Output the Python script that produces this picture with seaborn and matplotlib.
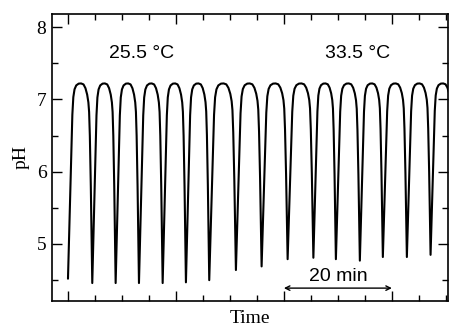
import numpy as np
import pandas as pd
import matplotlib
matplotlib.use("Agg")
import matplotlib.pyplot as plt
import seaborn as sns
from matplotlib.ticker import MultipleLocator, NullFormatter

# ---- data ----
# times (min) of the pH minima and the pH reached at each minimum
min_times = [0.0, 4.5, 8.83, 13.15, 17.54, 21.85, 26.17, 31.11, 35.87,
             40.69, 45.46, 49.63, 54.07, 58.33, 62.78, 67.17, 71.5]
min_ph = [4.52, 4.46, 4.46, 4.46, 4.46, 4.47, 4.50, 4.64, 4.69,
          4.79, 4.81, 4.79, 4.77, 4.82, 4.82, 4.85, 4.85]
top_ph = 7.22
# waveform of one cycle: phase in cycle, fraction of swing
cycle_phase = [0.00, 0.05, 0.10, 0.14, 0.18, 0.22, 0.27, 0.34, 0.44, 0.54,
               0.64, 0.72, 0.79, 0.84, 0.87, 0.90, 0.94, 0.97]
cycle_frac = [0.0, 0.23, 0.45, 0.66, 0.84, 0.93, 0.97, 0.99, 0.999, 1.0,
              0.995, 0.976, 0.944, 0.905, 0.857, 0.738, 0.485, 0.231]
label_left = "25.5 °C"
label_right = "33.5 °C"
scale_label = "20 min"
ytick_values = [5, 6, 7, 8]

# ---- build the trace ----
ts, ps = [], []
for i in range(len(min_times) - 1):
    t0, t1 = min_times[i], min_times[i + 1]
    m0, m1 = min_ph[i], min_ph[i + 1]
    for u, f in zip(cycle_phase, cycle_frac):
        base = m0 if u <= 0.54 else m1
        ts.append(t0 + u * (t1 - t0))
        ps.append(base + f * (top_ph - base))
ts.append(min_times[-1])
ps.append(min_ph[-1])
df = pd.DataFrame({"Time": ts, "pH": ps})

sns.set_style("ticks")
plt.rcParams["font.family"] = ["Liberation Serif", "DejaVu Serif"]
plt.rcParams["text.color"] = "black"
plt.rcParams["axes.labelcolor"] = "black"

fig = plt.figure(figsize=(4.49, 3.28), dpi=100)
ax = fig.add_axes([52 / 449, 1 - 300.7 / 328, 396 / 449, (300.7 - 14) / 328])

sns.lineplot(data=df, x="Time", y="pH", ax=ax, color="black", linewidth=1.5,
             estimator=None, sort=False)

ax.set_xlim(-2.96, 70.4)
ax.set_ylim(4.216, 8.18)

ax.xaxis.set_major_locator(MultipleLocator(20))
ax.xaxis.set_minor_locator(MultipleLocator(5))
ax.xaxis.set_major_formatter(NullFormatter())
ax.set_yticks(ytick_values)
ax.yaxis.set_minor_locator(MultipleLocator(0.5))

ax.tick_params(which="both", direction="in", top=True, right=True, colors="black",
               labelcolor="black", width=1.0)
ax.tick_params(which="major", length=7, labelsize=14, pad=4)
ax.tick_params(which="minor", length=4)
for s in ax.spines.values():
    s.set_linewidth(1.2)
    s.set_color("black")

ax.set_xlabel("Time", fontsize=14, labelpad=3, color="black")
ax.set_ylabel("pH", fontsize=14, labelpad=5, color="black")

sans = ["Liberation Sans", "DejaVu Sans"]
ax.text(13.7, 7.64, label_left, ha="center", va="center", fontsize=14,
        family=sans, color="black")
ax.text(53.7, 7.64, label_right, ha="center", va="center", fontsize=14,
        family=sans, color="black")
ax.annotate("", xy=(40, 4.39), xytext=(60, 4.39),
            arrowprops=dict(arrowstyle="<->", color="black", lw=1.0,
                            shrinkA=0, shrinkB=0, mutation_scale=8))
ax.text(50, 4.55, scale_label, ha="center", va="center", fontsize=14,
        family=sans, color="black")

fig.savefig("out.png", dpi=100)
